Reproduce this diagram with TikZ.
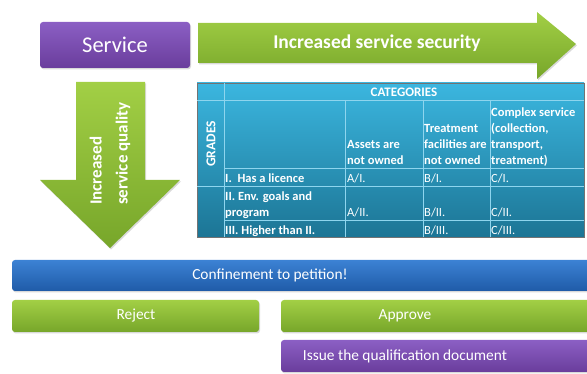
\documentclass[tikz,border=0pt]{standalone}
\usepackage{fontspec}
\setmainfont{Carlito}
\usepackage{xcolor}
\usepackage{tikz}
\usetikzlibrary{shadows}
\definecolor{violetH}{HTML}{8B5FC4}
\definecolor{violetB}{HTML}{6A3D9C}
\definecolor{vertH}{HTML}{A2CF45}
\definecolor{vertB}{HTML}{77A62A}
\definecolor{bleuH}{HTML}{3C82D4}
\definecolor{bleuB}{HTML}{1F5BA8}
\definecolor{tabH}{HTML}{3BB6DF}
\definecolor{tabB}{HTML}{1C7595}
\definecolor{ligne}{HTML}{8ED5EE}

\begin{document}
\begin{tikzpicture}[x=1pt, y=-1pt,
    ombre/.style={drop shadow={opacity=0.3, shadow xshift=1pt, shadow yshift=-1.5pt}},
    violetbox/.style={rounded corners=3pt, top color=violetH, bottom color=violetB, ombre},
    vertbox/.style={rounded corners=3pt, top color=vertH, bottom color=vertB, ombre},
    bleubox/.style={rounded corners=3pt, top color=bleuH, bottom color=bleuB, ombre},
    fleche/.style={top color=vertH, bottom color=vertB, ombre},
    blanc/.style={text=white, inner sep=0pt},
    barre/.style={blanc, font=\fontsize{15.4}{18}\selectfont},
    cellule/.style={blanc, anchor=south west, align=left, text depth=0pt,
        font=\fontsize{12.5}{16}\selectfont\bfseries},
    valeur/.style={blanc, anchor=base west, font=\fontsize{12.5}{16}\selectfont}]

    \useasboundingbox (0,0) rectangle (587,374);
    \clip (0,0) rectangle (587,374);

    % Bloc "Service"
    \path[violetbox] (40,22) rectangle (190,68);
    \node[blanc, font=\fontsize{22.5}{26}\selectfont] (service) at (115,45) {Service};

    % Flèche vers la droite
    \path[fleche] (198,23) -- (537,23) -- (537,12) -- (576,44) -- (537,79)
        -- (537,63) -- (198,63) -- cycle;
    \node[blanc, font=\fontsize{19.5}{22}\selectfont\bfseries] (securite) at (377,43)
        {Increased service security};

    % Flèche vers le bas
    \path[fleche] (76,82) -- (145,82) -- (145,180) -- (180,180) -- (110,248)
        -- (40,180) -- (76,180) -- cycle;
    \node[blanc, rotate=90, anchor=west, align=left,
        font=\fontsize{17}{26}\selectfont\bfseries] (qualite) at (110,205)
        {Increased\\service quality};

    % Tableau des catégories
    \path[top color=tabH, bottom color=tabB, draw=black!55, ombre]
        (197,83) rectangle (584,237);
    \draw[ligne, line width=0.8pt] (224,83) -- (224,237);
    \draw[ligne, line width=0.8pt] (345,100) -- (345,237);
    \draw[ligne, line width=0.8pt] (423,100) -- (423,237);
    \draw[ligne, line width=0.8pt] (490,100) -- (490,237);
    \draw[ligne, line width=0.8pt] (197,100) -- (584,100);
    \draw[ligne, line width=0.8pt] (224,168) -- (584,168);
    \draw[ligne, line width=0.8pt] (197,186) -- (584,186);
    \draw[ligne, line width=0.8pt] (224,220) -- (584,220);

    \node[blanc, font=\fontsize{13}{15}\selectfont\bfseries] (categories) at (404,92) {CATEGORIES};
    \node[blanc, rotate=90, font=\fontsize{13.5}{15}\selectfont\bfseries] (grades) at (211,144) {GRADES};

    % En-têtes
    \node[cellule] (actifs) at (347,165) {Assets are\\not owned};
    \node[cellule] (traitement) at (424,165) {Treatment\\facilities are\\not owned};
    \node[cellule] (complexe) at (491,165) {Complex service\\(collection,\\transport,\\treatment)};

    % Lignes
    \node[cellule] (grade1) at (225,183) {I.\ \ Has a licence};
    \node[cellule] (grade2) at (225,217) {II. Env. goals and\\program};
    \node[cellule] (grade3) at (225,235) {III. Higher than II.};
    \node[valeur] (a1) at (347,183) {A/I.};
    \node[valeur] (b1) at (424,183) {B/I.};
    \node[valeur] (c1) at (491,183) {C/I.};
    \node[valeur] (a2) at (347,217) {A/II.};
    \node[valeur] (b2) at (424,217) {B/II.};
    \node[valeur] (c2) at (491,217) {C/II.};
    \node[valeur] (b3) at (424,235) {B/III.};
    \node[valeur] (c3) at (491,235) {C/III.};

    % Barre bleue
    \path[bleubox] (12,260) rectangle (600,291);
    \node[barre] (petition) at (270,275) {Confinement to petition!};

    % Décision
    \path[vertbox] (12,300) rectangle (259,332);
    \node[barre] (rejet) at (136,316) {Reject};
    \path[vertbox] (281,300) rectangle (600,332);
    \node[barre] (accord) at (405,316) {Approve};

    % Document délivré
    \path[violetbox] (281,340) rectangle (600,372);
    \node[barre] (document) at (405,356) {Issue the qualification document};
\end{tikzpicture}
\end{document}
